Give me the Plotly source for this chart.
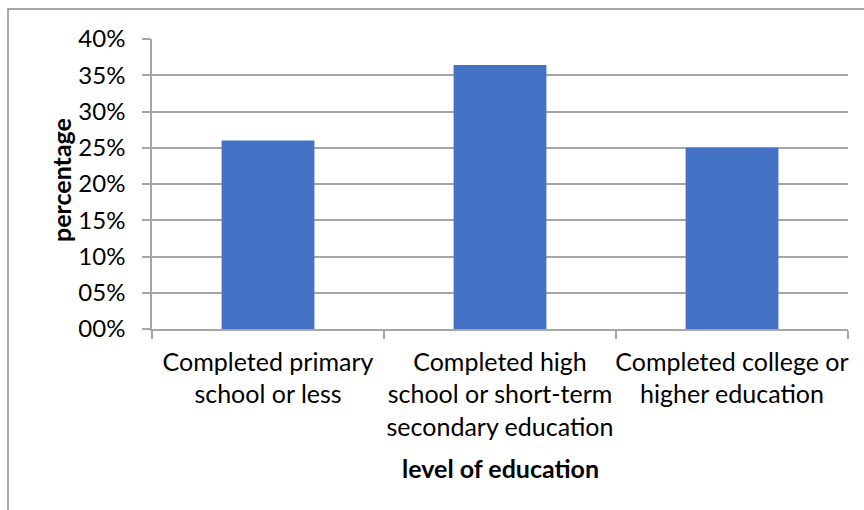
import plotly.graph_objects as go

# Share of respondents by highest level of education completed
categories = [
    "Completed primary<br>school or less",
    "Completed high<br>school or short-term<br>secondary education",
    "Completed college or<br>higher education",
]
shares = [0.26, 0.364, 0.25]

tick_values = [0.00, 0.05, 0.10, 0.15, 0.20, 0.25, 0.30, 0.35, 0.40]
tick_labels = ["00%", "05%", "10%", "15%", "20%", "25%", "30%", "35%", "40%"]

FONT = "Lato"
TEXT = "#000000"
GRID = "#a6a6a6"

W, H = 864, 510
L, R, T, B = 152, 16, 39, 181
pw, ph = W - L - R, H - T - B

fig = go.Figure(
    go.Bar(
        x=categories,
        y=shares,
        marker=dict(color="#4472C4", line=dict(width=0)),
        width=0.4,
    )
)

fig.update_layout(
    width=W,
    height=H,
    margin=dict(l=L, r=R, t=T, b=B, pad=0, autoexpand=False),
    paper_bgcolor="white",
    plot_bgcolor="white",
    showlegend=False,
    font=dict(family=FONT, size=24, color=TEXT),
    bargap=0.6,
)

fig.update_xaxes(
    range=[-0.5, 2.5],
    showline=True,
    linecolor=GRID,
    linewidth=1.5,
    ticks="outside",
    tickson="boundaries",
    ticklen=8,
    tickwidth=1.5,
    tickcolor=GRID,
    showgrid=False,
    tickangle=0,
    automargin=False,
    ticklabelstandoff=10,
    tickfont=dict(family=FONT, size=25, color=TEXT),
    fixedrange=True,
)

fig.update_yaxes(
    range=[0, 0.40],
    tickvals=tick_values,
    ticktext=tick_labels,
    showline=True,
    linecolor=GRID,
    linewidth=1.5,
    ticks="outside",
    ticklen=8,
    tickwidth=1.5,
    tickcolor=GRID,
    showgrid=True,
    gridcolor=GRID,
    gridwidth=1.5,
    zeroline=False,
    automargin=False,
    ticklabelstandoff=12,
    tickfont=dict(family=FONT, size=24, color=TEXT),
    fixedrange=True,
)

# Axis titles
fig.add_annotation(
    text="<b>percentage</b>",
    xref="paper", yref="paper",
    x=(61 - L) / pw, y=(329 - 180) / ph,
    textangle=-90, showarrow=False,
    xanchor="center", yanchor="middle",
    font=dict(family=FONT, size=25, color=TEXT),
)
fig.add_annotation(
    text="<b>level of education</b>",
    xref="paper", yref="paper",
    x=0.5, y=-(468 - (T + ph)) / ph,
    showarrow=False,
    xanchor="center", yanchor="middle",
    font=dict(family=FONT, size=25, color=TEXT),
)

# Chart-area frame
fig.add_shape(
    type="rect",
    xref="paper", yref="paper",
    x0=(8 - L) / pw, x1=1 + (W + 10 - (L + pw)) / pw,
    y0=-(H + 10 - (T + ph)) / ph, y1=1 + (T - 9) / ph,
    line=dict(color="#8c8c8c", width=1.5),
    fillcolor="rgba(0,0,0,0)",
    layer="below",
)

fig.write_html("out.html")
